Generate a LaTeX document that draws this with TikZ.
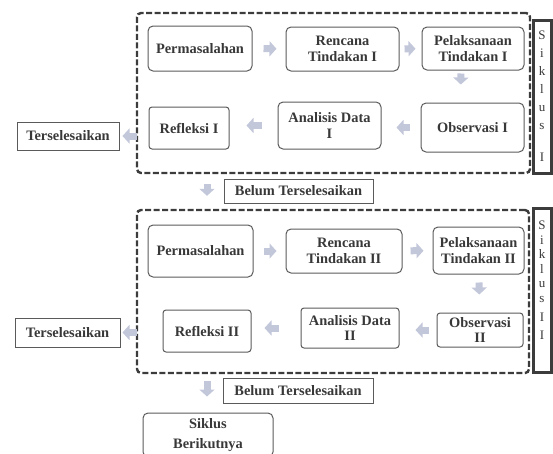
\documentclass[tikz,border=0pt]{standalone}
\usepackage{fontspec}
\setmainfont{Liberation Serif}
\usetikzlibrary{arrows.meta}
\definecolor{boxline}{HTML}{5A5A5A}
\definecolor{boxtext}{HTML}{383838}
\definecolor{arrowfill}{HTML}{C3C7DA}
\definecolor{cycline}{HTML}{3C3C3C}
\begin{document}
\begin{tikzpicture}[x=1pt,y=-1pt,
        tahap/.style={draw=boxline, line width=1pt, rounded corners=5pt, align=center, inner sep=0pt,
          text=boxtext, font=\bfseries\fontsize{14.4}{15.5}\selectfont},
        ket/.style={tahap, rounded corners=0pt},
        siklus/.style={draw=cycline, line width=2.4pt, dash pattern=on 6pt off 2.5pt, rounded corners=4pt, inner sep=0pt},
        sikbox/.style={draw=cycline, line width=3pt, inner sep=0pt, align=center, text=boxtext},
        blk/.style={draw=arrowfill, line width=7pt, -{Triangle[length=7pt,width=15pt]}}]
        \useasboundingbox (0,0) rectangle (553,453);
        \node[siklus, minimum width=393pt, minimum height=160pt] (cyc1) at (333.5,93) {};
        \node[siklus, minimum width=392pt, minimum height=163pt] (cyc2) at (333,291.5) {};
        \node[sikbox, minimum width=18pt, minimum height=153pt, font=\fontsize{13}{18}\selectfont] (sik1) at (542,96.5)
          {S\\i\\k\\l\\u\\s\\[14pt]I};
        \node[sikbox, minimum width=18pt, minimum height=164pt, font=\fontsize{13}{14.6}\selectfont] (sik2) at (542,290)
          {S\\i\\k\\l\\u\\s\\[4.4pt]I\\[3.4pt]I\\[5pt]\mbox{}};
        \node[tahap, minimum width=104pt, minimum height=45pt] (perm1) at (200,48.5) {Permasalahan};
        \node[tahap, minimum width=113pt, minimum height=44pt] (renc1) at (342.5,49) {Rencana\\Tindakan I};
        \node[tahap, minimum width=102pt, minimum height=43pt] (pel1) at (473,48.5) {Pelaksanaan\\Tindakan I};
        \node[tahap, minimum width=103pt, minimum height=49pt] (obs1) at (472.5,127.5) {Observasi I};
        \node[tahap, minimum width=103pt, minimum height=47pt] (ana1) at (329.5,125.5) {Analisis Data\\I};
        \node[tahap, minimum width=80pt, minimum height=42pt, rounded corners=3pt] (ref1) at (189,128) {Refleksi I};
        \node[ket, minimum width=102pt, minimum height=28pt] (ters1) at (68,136) {Terselesaikan};
        \node[ket, minimum width=149pt, minimum height=24pt] (belum1) at (298.5,191) {Belum Terselesaikan};
        \node[tahap, minimum width=105pt, minimum height=52pt] (perm2) at (200.5,251) {Permasalahan};
        \node[tahap, minimum width=116pt, minimum height=44pt] (renc2) at (344,251) {Rencana\\Tindakan II};
        \node[tahap, minimum width=91pt, minimum height=47pt] (pel2) at (478.5,250.5) {Pelaksanaan\\Tindakan II};
        \node[tahap, minimum width=86pt, minimum height=34pt, rounded corners=3pt] (obs2) at (480,330) {Observasi\\II};
        \node[tahap, minimum width=98pt, minimum height=40pt, rounded corners=3pt] (ana2) at (350,328) {Analisis Data\\II};
        \node[tahap, minimum width=88pt, minimum height=42pt, rounded corners=3pt] (ref2) at (207,331) {Refleksi II};
        \node[ket, minimum width=105pt, minimum height=29pt] (ters2) at (67.5,332.5) {Terselesaikan};
        \node[ket, minimum width=150pt, minimum height=25pt] (belum2) at (298,390.5) {Belum Terselesaikan};
        \node[tahap, minimum width=130pt, minimum height=44pt, font=\bfseries\fontsize{14.4}{20}\selectfont] (next) at (208,435)
          {Siklus\\Berikutnya};
        \coordinate (dn) at (207,0);
        \draw[blk, shorten <=11pt, shorten >=9pt] (perm1) -- (renc1);
        \draw[blk, shorten <=5pt, shorten >=6pt] (renc1) -- (pel1);
        \draw[blk, shorten <=3pt, shorten >=18pt] ([xshift=-12pt]pel1.south) -- ([xshift=-12pt]obs1.north);
        \draw[blk, shorten <=11pt, shorten >=15pt] (obs1.west) -- (obs1.west -| ana1.east);
        \draw[blk, shorten <=16pt, shorten >=17pt] (ana1.west) -- (ana1.west -| ref1.east);
        \draw[blk, shorten <=12pt, shorten >=3pt] (ters1.east -| ref1.west) -- (ters1.east);
        \draw[blk, shorten <=10pt, shorten >=13pt] (dn |- cyc1.south) -- (dn |- cyc2.north);
        \draw[blk, shorten <=10pt, shorten >=9pt] (perm2) -- (renc2);
        \draw[blk, shorten <=8pt, shorten >=9pt] (renc2) -- (pel2);
        \draw[blk, shorten <=8pt, shorten >=18pt] (pel2) -- (obs2);
        \draw[blk, shorten <=8pt, shorten >=16pt] (obs2.west) -- (obs2.west -| ana2.east);
        \draw[blk, shorten <=22pt, shorten >=13pt] (ana2.west) -- (ana2.west -| ref2.east);
        \draw[blk, shorten <=26pt, shorten >=2pt] (ters2.east -| ref2.west) -- (ters2.east);
        \draw[blk, shorten <=7pt, shorten >=16pt] (dn |- cyc2.south) -- (dn |- next.north);
      \end{tikzpicture}
\end{document}
